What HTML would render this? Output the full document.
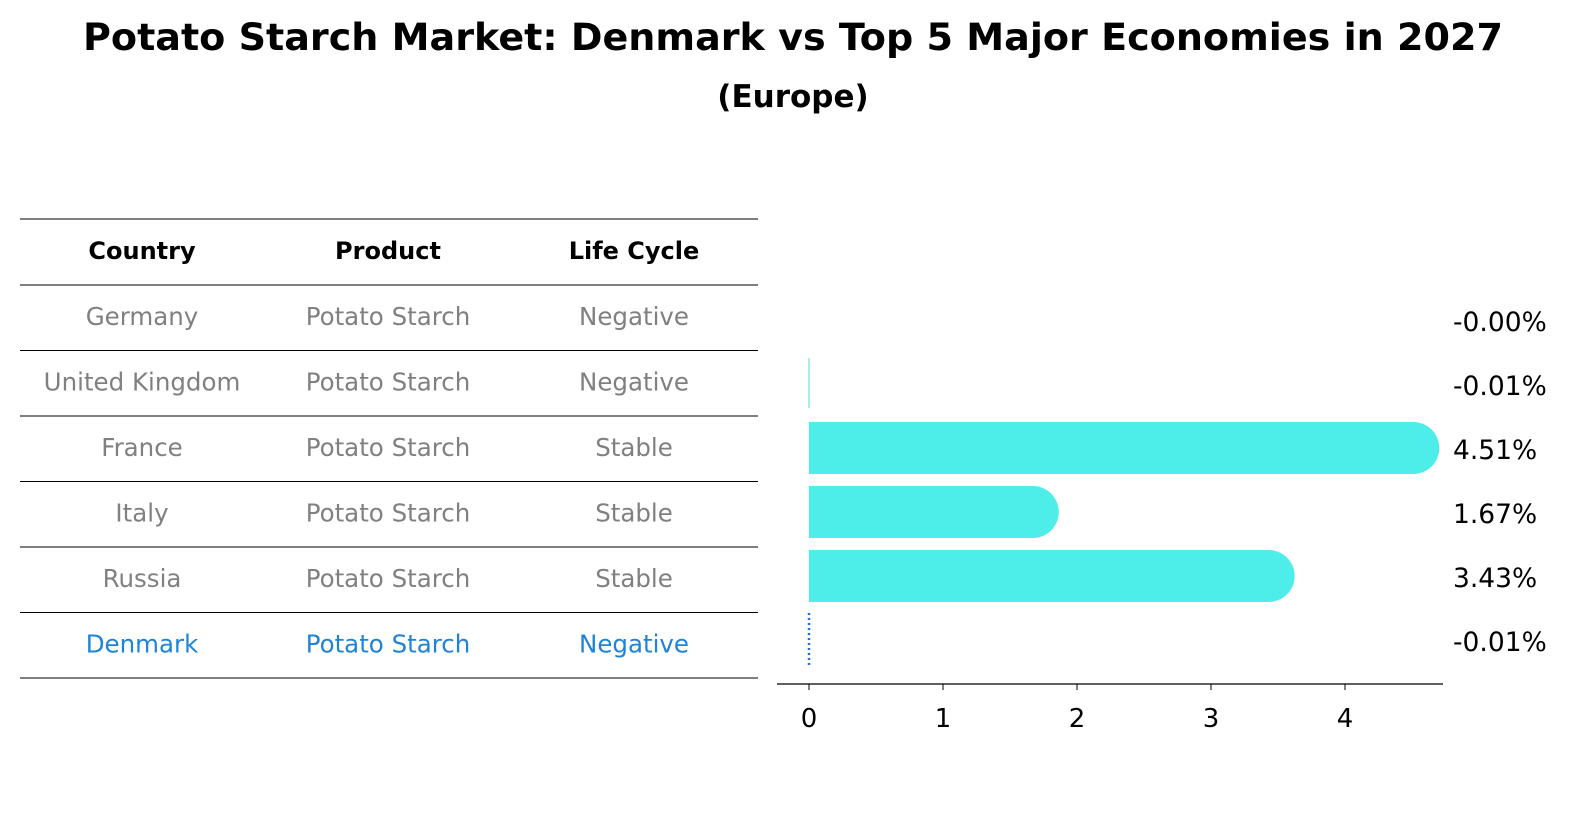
<!DOCTYPE html>
<html><head><meta charset="utf-8"><style>
html,body{margin:0;padding:0;background:#fff;overflow:hidden;width:1596px;height:823px;font-family:"Liberation Sans","DejaVu Sans",sans-serif;}
svg{display:block}
</style></head><body>
<svg id="c" width="1596" height="823" xmlns="http://www.w3.org/2000/svg">
<text x="793" y="50" text-anchor="middle" font-size="37" font-weight="bold" font-family="DejaVu Sans, Liberation Sans, sans-serif" textLength="1420" lengthAdjust="spacingAndGlyphs">Potato Starch Market: Denmark vs Top 5 Major Economies in 2027</text>
<text x="793" y="107" text-anchor="middle" font-size="31" font-weight="bold" font-family="DejaVu Sans, Liberation Sans, sans-serif">(Europe)</text>
<g id="tbl"></g>
<g id="bars"></g>
</svg>
<script>
const countries=["Germany","United Kingdom","France","Italy","Russia","Denmark"];
const products=["Potato Starch","Potato Starch","Potato Starch","Potato Starch","Potato Starch","Potato Starch"];
const lifecycle=["Negative","Negative","Stable","Stable","Stable","Negative"];
const values=[-0.001,-0.01,4.51,1.67,3.43,-0.01];
const valueLabels=["-0.00%","-0.01%","4.51%","1.67%","3.43%","-0.01%"];
const ticks=[0,1,2,3,4];
const NS="http://www.w3.org/2000/svg";
const F="DejaVu Sans, Liberation Sans, sans-serif";
function mk(t,a,p){const e=document.createElementNS(NS,t);for(const k in a)e.setAttribute(k,a[k]);p.appendChild(e);return e;}
const tbl=document.getElementById('tbl');
const rowY=i=>285+i*65.5;
const cols=[142,388,634];
for(let i=0;i<=7;i++){const y=i==0?219:rowY(i-1);
 const l=mk('line',{x1:20,x2:758,y1:y,y2:y,stroke:'#000','stroke-width':1},tbl);
 
 }
["Country","Product","Life Cycle"].forEach((h,j)=>{const t=mk('text',{x:cols[j],y:259,'text-anchor':'middle','font-size':24,'font-weight':'bold','font-family':F},tbl);t.textContent=h;
 
 });
countries.forEach((c,i)=>{const col=i==5?'#1f84d9':'#808080';
 [c,products[i],lifecycle[i]].forEach((v,j)=>{const t=mk('text',{x:cols[j],y:rowY(i)+40,'text-anchor':'middle','font-size':24.5,fill:col,'font-family':F},tbl);t.textContent=v;
 
 });});
const g=document.getElementById('bars');
const x0=809,sc=134,xs=v=>x0+v*sc;
const cy=i=>320+i*64;
const bh=52;
const ax=mk('line',{x1:777,x2:1443,y1:684,y2:684,stroke:'#000','stroke-width':1.2},g);


ticks.forEach(t=>{const l=mk('line',{x1:xs(t),x2:xs(t),y1:684,y2:690,stroke:'#000'},g);
 
 
 const tx=mk('text',{x:xs(t),y:727,'text-anchor':'middle','font-size':26,'font-family':F},g);tx.textContent=t;
 
 });
values.forEach((v,i)=>{const y=cy(i);
 if(i==5){const l=mk('line',{x1:x0,x2:x0,y1:y-27,y2:y+27,stroke:'#1f6fd9','stroke-width':2.5,'stroke-dasharray':'2,3'},g);
  
  }
 else if(v>0.05){const w=xs(v)-x0;
  const p=mk('path',{d:`M${x0},${y-bh/2} h${w} a${bh/2},${bh/2} 0 0 1 0,${bh} h${-w} z`,fill:'#4deeea'},g);
  
  }
 else if(Math.abs(v)>=0.005){const l=mk('line',{x1:x0,x2:x0,y1:y-26,y2:y+24,stroke:'#7fd8d6','stroke-width':1.2},g);
  
  }
 const t=mk('text',{x:1453,y:y+11,'font-size':26.5,'font-family':F},g);t.textContent=valueLabels[i];
 
 });
</script>
</body></html>
